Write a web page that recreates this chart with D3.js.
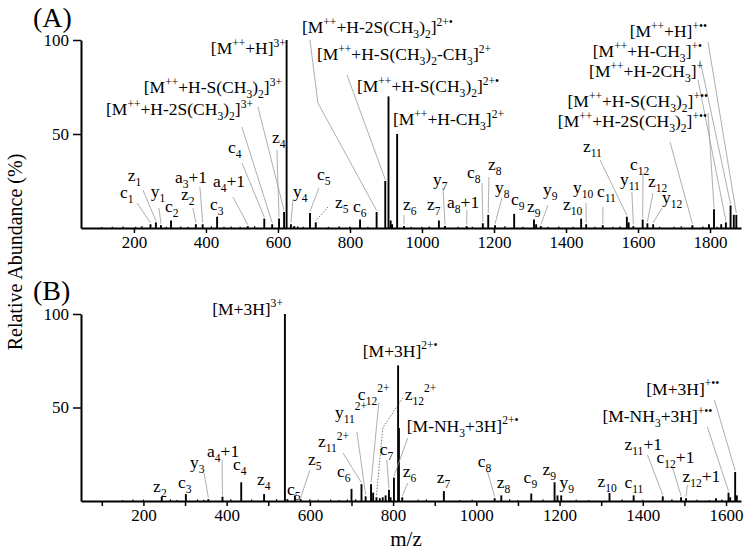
<!DOCTYPE html>
<html>
<head>
<meta charset="utf-8">
<script src="https://cdn.jsdelivr.net/npm/d3@7"></script>
<style>
body { margin: 0; background: #fff; }
svg { display: block; font-family: "Liberation Serif", "Times New Roman", serif; }
.domain { stroke-width: 2px; }
.tick line { stroke-width: 1.5px; }
.tick text { font-size: 17px; fill: #000; }
.leader { fill: none; stroke: #9a9a9a; stroke-width: 0.8px; }
.leader.dot { stroke: #555; stroke-dasharray: 1.5 1.5; }
.ann { font-size: 17.5px; fill: #000; }
</style>
</head>
<body>
<svg width="750" height="551"></svg>
<script>
// ---- panel A peaks (m/z, relative abundance %)
var mzA = [246,261,275,303,372,391,431,516,562,584,603,617,624,636,645,689,705,828,874,898,
           907,913,917,931,950,1047,1064,1124,1169,1184,1203,1256,1311,1317,1330,1442,1456,1502,1569,1574,
           1587,1613,1626,1642,1751,1797,1811,1831,1844,1857,1866,1873];
var intA = [2,3,1.5,4,2,2,6,1,5,2,5,8.5,100,2,1,8,3,4.5,8.5,25,
            70,4,2,50,1,4,1,1,2.5,7,1.5,7.5,4.5,2,1,5,2,1.5,6,3,
            1,4.5,2.5,2,1.5,2,10,2,3,12,7,7];
var noiseMzA = [110,140,170,205,222,290,330,350,415,450,470,495,535,655,670,740,770,800,850,970,
                1000,1020,1100,1140,1230,1280,1350,1380,1420,1480,1530,1550,1660,1700,1720,1780,1820];
var noiseIntA = [0.5,0.6,0.8,0.7,1,0.6,0.8,0.7,0.9,0.6,0.8,0.7,1,0.9,0.7,0.6,0.9,0.8,0.7,0.6,
                 0.7,0.8,0.6,0.7,0.9,0.6,0.7,0.8,0.6,0.7,0.6,0.8,0.7,0.6,0.9,0.8,0.7];
var ticksA = [200,400,600,800,1000,1200,1400,1600,1800];

// ---- panel B peaks
var mzB = [244,302,356,390,435,490,540,546,564,578,700,724,734,747,752,760,768,775,782,790,
           794,802,812,814,822,922,1044,1060,1132,1188,1195,1204,1320,1378,1448,1492,1504,1576,1606,1610,
           1622,1626];
var intB = [2.3,3.7,1,2.3,10,3.7,100,1,3,1,6.5,9,2.5,9,4.5,2,1.5,2,3,6,
            2,12.5,72.5,39,2,5.3,1.5,3,4,10,3,3,4.3,3,2.5,2,1.5,1.5,4.5,2,
            15.5,3];
var noiseMzB = [150,175,200,265,280,330,345,410,460,520,600,620,650,670,690,710,860,880,960,990,
                1080,1100,1160,1240,1270,1350,1400,1470,1530,1560,1590];
var noiseIntB = [0.6,0.8,0.7,0.9,0.6,0.8,0.7,0.9,0.8,1,0.9,0.7,0.8,0.6,0.8,0.9,0.7,0.8,0.6,0.7,
                 0.9,0.6,0.8,0.7,0.6,0.8,0.7,0.9,0.7,0.6,0.8];
var ticksB = [100,200,300,400,500,600,700,800,900,1000,1100,1200,1300,1400,1500,1600];

// ---- peak labels: text, label spot [m/z, %], leader bend points, target peak
var annA = [
  {t:"[M^{++}+H]^{3+}", at:[622,92.6], a:"end"},
  {t:"[M^{++}+H-2S(CH_{3})_{2}]^{2+•}", at:[666.7,103.7], via:[[688.9,100],[711,66.5]], to:874},
  {t:"[M^{++}+H-S(CH_{3})_{2}-CH_{3}]^{2+}", at:[708.3,89.4], via:[[791.7,81.4]], to:898},
  {t:"[M^{++}+H-S(CH_{3})_{2}]^{2+•}", at:[819.4,72.3]},
  {t:"[M^{++}+H-CH_{3}]^{2+}", at:[919.4,54.8]},
  {t:"[M^{++}+H-S(CH_{3})_{2}]^{3+}", at:[611.1,71.8], a:"end", via:[[544.4,64.4]], to:617},
  {t:"[M^{++}+H-2S(CH_{3})_{2}]^{3+}", at:[530.6,60.1], a:"end", via:[[500,53.7]], to:584},
  {t:"c_{4}", at:[461,39.9], via:[[500,34.6]], to:562},
  {t:"z_{4}", at:[583.3,45.2], via:[[597,41.5]], to:603},
  {t:"z_{1}", at:[183,25], via:[[225,20.2]], to:261},
  {t:"c_{1}", at:[161,16], via:[[208.3,13.3]], to:246},
  {t:"y_{1}", at:[247,16.5], via:[[269.4,10.6]], to:275},
  {t:"c_{2}", at:[286,8.5]},
  {t:"z_{2}", at:[330.6,14.9], via:[[363.9,10.6]], to:372},
  {t:"a_{3}+1", at:[313.9,23.9], via:[[383.3,21.8]], to:391},
  {t:"c_{3}", at:[411,9.6]},
  {t:"a_{4}+1", at:[419.4,21.8], via:[[475,16.5]], to:516},
  {t:"y_{4}", at:[641.7,16.5], via:[[641.7,14.9]], to:636},
  {t:"c_{5}", at:[708.3,25.5], via:[[713.9,21.3]], to:689},
  {t:"z_{5}", at:[758.3,10.6], via:[[738.9,11.2]], to:705, dot:true},
  {t:"c_{6}", at:[808.3,8.5]},
  {t:"z_{6}", at:[947.2,9.6], via:[[950,6.9]], to:950},
  {t:"z_{7}", at:[1013.9,9.6]},
  {t:"y_{7}", at:[1030.6,22.9], via:[[1058.3,21.3]], to:1064},
  {t:"a_{8}+1", at:[1069.4,10.6], via:[[1125,9.6]], to:1124},
  {t:"c_{8}", at:[1125,26.6], via:[[1166.7,23.9]], to:1169},
  {t:"z_{8}", at:[1183.3,30.9], via:[[1186,27.1]], to:1184},
  {t:"y_{8}", at:[1202.8,18.6], via:[[1222,16]], to:1203},
  {t:"c_{9}", at:[1247,12.2]},
  {t:"z_{9}", at:[1291.7,8.5]},
  {t:"y_{9}", at:[1336,17.6], via:[[1350,12.2]], to:1330},
  {t:"z_{10}", at:[1391.7,9.6]},
  {t:"y_{10}", at:[1419.4,18.6], via:[[1455.6,13.3]], to:1456},
  {t:"c_{11}", at:[1486,16.5], via:[[1502.8,11.2]], to:1502},
  {t:"z_{11}", at:[1447,40.4], via:[[1494.4,36.2]], to:1569},
  {t:"y_{11}", at:[1550,22.9], via:[[1583,19.1]], to:1587},
  {t:"c_{12}", at:[1577.8,30.9], via:[[1613.9,29.3]], to:1613},
  {t:"z_{12}", at:[1627.8,21.8], via:[[1641.7,18.6]], to:1626},
  {t:"y_{12}", at:[1666.7,13.3], via:[[1666.7,10.6]], to:1642},
  {t:"[M^{++}+H]^{+••}", at:[1791.7,101.6], a:"end", via:[[1794.4,98.9]], to:1873},
  {t:"[M^{++}+H-CH_{3}]^{+•}", at:[1777.8,91], a:"end", via:[[1772.2,89.4]], to:1857},
  {t:"[M^{++}+H-2CH_{3}]^{+}", at:[1780.6,80.3], a:"end", via:[[1766.7,78.7]], to:1844},
  {t:"[M^{++}+H-S(CH_{3})_{2}]^{+••}", at:[1794.4,64.4], a:"end", via:[[1794.4,61.2]], to:1811},
  {t:"[M^{++}+H-2S(CH_{3})_{2}]^{+••}", at:[1791.7,53.7], a:"end", via:[[1688.9,45.7]], to:1751}
];

var annB = [
  {t:"[M+3H]^{3+}", at:[535.2,99.6], a:"end"},
  {t:"z_{2}", at:[223.3,4.8]},
  {t:"c_{3}", at:[283.3,7]},
  {t:"y_{3}", at:[312.1,17.7], via:[[345.7,15]], to:356},
  {t:"a_{4}+1", at:[352.9,23.6], via:[[388.9,22]], to:390},
  {t:"c_{4}", at:[415.3,16.6]},
  {t:"z_{4}", at:[472.9,8.6]},
  {t:"c_{5}", at:[544.9,3.2]},
  {t:"z_{5}", at:[595.3,19.3], via:[[600,16.6]], to:578},
  {t:"c_{6}", at:[664.9,12.9]},
  {t:"z_{11}^{2+}", at:[619.3,28.9], via:[[679.3,25.7]], to:724},
  {t:"y_{11}^{2+}", at:[660.1,44.5], via:[[712.9,37]], to:734},
  {t:"c_{12}^{2+}", at:[715.3,54.1], via:[[765.7,52.5]], to:747},
  {t:"z_{12}^{2+}", at:[828,54.1], via:[[823.2,55.2],[775.2,39.1]], to:760, dot:true},
  {t:"c_{7}", at:[768,24.6], via:[[784.8,22]], to:790},
  {t:"[M+3H]^{2+•}", at:[727.2,77.1]},
  {t:"[M-NH_{3}+3H]^{2+•}", at:[832.8,37], via:[[835.2,33.7]], to:802},
  {t:"z_{6}", at:[823.2,12.9], via:[[835.2,9.6]], to:822},
  {t:"z_{7}", at:[904.8,9.6]},
  {t:"c_{8}", at:[1003.2,18.2], via:[[1027.2,15.5]], to:1044},
  {t:"z_{8}", at:[1048.8,7]},
  {t:"c_{9}", at:[1113.6,9.6]},
  {t:"z_{9}", at:[1159.2,13.9]},
  {t:"y_{9}", at:[1200,7]},
  {t:"z_{10}", at:[1291.2,7.5]},
  {t:"c_{11}", at:[1356,7]},
  {t:"z_{11}+1", at:[1356,27.3], via:[[1411.2,24.6]], to:1448},
  {t:"c_{12}+1", at:[1432.8,20.4], via:[[1471.2,18.2]], to:1492},
  {t:"z_{12}+1", at:[1495.2,10.2], via:[[1507.2,8.6]], to:1504},
  {t:"[M+3H]^{+••}", at:[1584,56.8], a:"end", via:[[1572,54.1]], to:1622},
  {t:"[M-NH_{3}+3H]^{+••}", at:[1567.2,42.3], a:"end", via:[[1555.2,39.6]], to:1606}
];

var svg = d3.select("svg");

// write "x_{sub}^{sup}" strings as tspans
function rich(text, str, size) {
  var re = /([_^])\{([^}]*)\}|([^_^]+)/g, m, cur = 0;
  while ((m = re.exec(str))) {
    var mode = m[1] ? (m[1] === "^" ? 1 : -1) : 0;
    var off = mode === 1 ? -0.42 * size : mode === -1 ? 0.3 * size : 0;
    text.append("tspan")
        .attr("dy", (off - cur).toFixed(2))
        .style("font-size", (mode ? size * 0.66 : size) + "px")
        .text(m[1] ? m[2] : m[3]);
    cur = off;
  }
}

function panel(o) {
  var x = d3.scaleLinear().domain(o.dom).range([81, 741]),
      y = d3.scaleLinear().domain([0, 100]).range([o.base, o.top]);
  var g = svg.append("g");

  var noise = o.noiseMz.map(function(d, i) { return {mz: d, v: o.noiseInt[i]}; });
  g.selectAll(".noise")
      .data(noise)
      .enter().append("line")
      .attr("x1", function(d) { return x(d.mz); })
      .attr("x2", function(d) { return x(d.mz); })
      .attr("y1", y(0))
      .attr("y2", function(d) { return y(d.v); })
      .attr("stroke", "#000")
      .attr("stroke-width", 1.2);

  var peaks = o.mz.map(function(d, i) { return {mz: d, v: o.int[i]}; });
  g.selectAll(".peak")
      .data(peaks)
      .enter().append("line")
      .attr("class", "peak")
      .attr("x1", function(d) { return x(d.mz); })
      .attr("x2", function(d) { return x(d.mz); })
      .attr("y1", y(0))
      .attr("y2", function(d) { return y(d.v); })
      .attr("stroke", "#000")
      .attr("stroke-width", 1.9);

  g.append("g")
      .attr("transform", "translate(0," + o.base + ")")
      .call(d3.axisBottom(x).tickValues(o.ticks).tickFormat(function(d) { return d % 200 === 0 ? d : ""; })
            .tickSize(5).tickSizeOuter(0).tickPadding(3))
      .attr("font-family", null).attr("font-size", null);

  g.append("g")
      .attr("transform", "translate(81,0)")
      .call(d3.axisLeft(y).tickValues([50, 100]).tickSize(8).tickSizeOuter(0).tickPadding(4))
      .attr("font-family", null).attr("font-size", null);

  // leader lines
  var line = d3.line();
  o.ann.filter(function(a) { return a.to; }).forEach(function(a) {
    var pts = a.via.map(function(p) { return [x(p[0]), y(p[1])]; });
    pts.push([x(a.to), y(o.int[o.mz.indexOf(a.to)]) - 1.5]);
    g.append("path")
        .attr("class", a.dot ? "leader dot" : "leader")
        .attr("d", line(pts));
  });

  o.ann.forEach(function(a) {
    var t = g.append("text")
        .attr("class", "ann")
        .attr("x", x(a.at[0]))
        .attr("y", y(a.at[1]))
        .attr("text-anchor", a.a || "start");
    rich(t, a.t, 17.5);
  });

  svg.append("text")
      .attr("x", 33).attr("y", o.base - 201)
      .style("font-size", "28px")
      .text(o.name);
}

panel({name: "(A)", dom: [53, 1886], base: 228, top: 40, mz: mzA, int: intA,
       noiseMz: noiseMzA, noiseInt: noiseIntA, ticks: ticksA, ann: annA});
panel({name: "(B)", dom: [50, 1636], base: 501, top: 314, mz: mzB, int: intB,
       noiseMz: noiseMzB, noiseInt: noiseIntB, ticks: ticksB, ann: annB});

svg.append("text")
    .attr("transform", "translate(22,252) rotate(-90)")
    .attr("text-anchor", "middle")
    .style("font-size", "20px")
    .text("Relative Abundance (%)");

svg.append("text")
    .attr("x", 406).attr("y", 546)
    .attr("text-anchor", "middle")
    .style("font-size", "21px")
    .text("m/z");
</script>
</body>
</html>
